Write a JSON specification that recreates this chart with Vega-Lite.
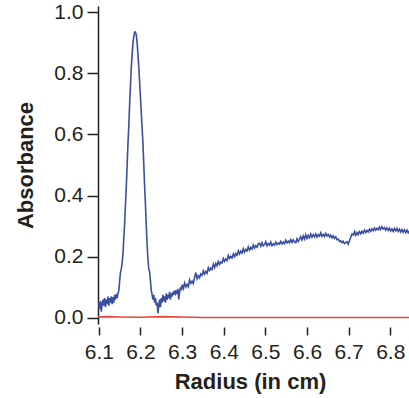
{
  "$schema": "https://vega.github.io/schema/vega-lite/v6.json",
  "autosize": {"type": "none"},
  "padding": {"left": 98, "top": 6, "right": 0, "bottom": 74},
  "width": 311,
  "height": 318,
  "background": "white",
  "config": {
    "view": {"stroke": null},
    "font": "Liberation Sans"
  },
  "datasets": {
    "curves": [
      {"series": "sample", "radius": 6.098, "abs": 0.035},
      {"series": "sample", "radius": 6.100, "abs": 0.05},
      {"series": "sample", "radius": 6.102, "abs": 0.03},
      {"series": "sample", "radius": 6.104, "abs": 0.055},
      {"series": "sample", "radius": 6.106, "abs": 0.02},
      {"series": "sample", "radius": 6.108, "abs": 0.045},
      {"series": "sample", "radius": 6.110, "abs": 0.06},
      {"series": "sample", "radius": 6.112, "abs": 0.04},
      {"series": "sample", "radius": 6.114, "abs": 0.065},
      {"series": "sample", "radius": 6.116, "abs": 0.035},
      {"series": "sample", "radius": 6.118, "abs": 0.06},
      {"series": "sample", "radius": 6.120, "abs": 0.045},
      {"series": "sample", "radius": 6.122, "abs": 0.07},
      {"series": "sample", "radius": 6.124, "abs": 0.04},
      {"series": "sample", "radius": 6.126, "abs": 0.065},
      {"series": "sample", "radius": 6.128, "abs": 0.05},
      {"series": "sample", "radius": 6.130, "abs": 0.07},
      {"series": "sample", "radius": 6.132, "abs": 0.045},
      {"series": "sample", "radius": 6.134, "abs": 0.068},
      {"series": "sample", "radius": 6.136, "abs": 0.05},
      {"series": "sample", "radius": 6.138, "abs": 0.075},
      {"series": "sample", "radius": 6.140, "abs": 0.06},
      {"series": "sample", "radius": 6.142, "abs": 0.078},
      {"series": "sample", "radius": 6.144, "abs": 0.065},
      {"series": "sample", "radius": 6.146, "abs": 0.08},
      {"series": "sample", "radius": 6.148, "abs": 0.09},
      {"series": "sample", "radius": 6.150, "abs": 0.12},
      {"series": "sample", "radius": 6.152, "abs": 0.15},
      {"series": "sample", "radius": 6.154, "abs": 0.16},
      {"series": "sample", "radius": 6.156, "abs": 0.18},
      {"series": "sample", "radius": 6.158, "abs": 0.21},
      {"series": "sample", "radius": 6.160, "abs": 0.26},
      {"series": "sample", "radius": 6.162, "abs": 0.31},
      {"series": "sample", "radius": 6.164, "abs": 0.37},
      {"series": "sample", "radius": 6.166, "abs": 0.43},
      {"series": "sample", "radius": 6.168, "abs": 0.50},
      {"series": "sample", "radius": 6.170, "abs": 0.57},
      {"series": "sample", "radius": 6.172, "abs": 0.63},
      {"series": "sample", "radius": 6.174, "abs": 0.70},
      {"series": "sample", "radius": 6.176, "abs": 0.76},
      {"series": "sample", "radius": 6.178, "abs": 0.82},
      {"series": "sample", "radius": 6.180, "abs": 0.86},
      {"series": "sample", "radius": 6.182, "abs": 0.90},
      {"series": "sample", "radius": 6.184, "abs": 0.92},
      {"series": "sample", "radius": 6.186, "abs": 0.935},
      {"series": "sample", "radius": 6.188, "abs": 0.935},
      {"series": "sample", "radius": 6.190, "abs": 0.925},
      {"series": "sample", "radius": 6.192, "abs": 0.90},
      {"series": "sample", "radius": 6.194, "abs": 0.86},
      {"series": "sample", "radius": 6.196, "abs": 0.82},
      {"series": "sample", "radius": 6.198, "abs": 0.77},
      {"series": "sample", "radius": 6.200, "abs": 0.72},
      {"series": "sample", "radius": 6.202, "abs": 0.67},
      {"series": "sample", "radius": 6.204, "abs": 0.62},
      {"series": "sample", "radius": 6.206, "abs": 0.57},
      {"series": "sample", "radius": 6.208, "abs": 0.50},
      {"series": "sample", "radius": 6.210, "abs": 0.43},
      {"series": "sample", "radius": 6.212, "abs": 0.37},
      {"series": "sample", "radius": 6.214, "abs": 0.30},
      {"series": "sample", "radius": 6.216, "abs": 0.24},
      {"series": "sample", "radius": 6.218, "abs": 0.19},
      {"series": "sample", "radius": 6.220, "abs": 0.16},
      {"series": "sample", "radius": 6.222, "abs": 0.15},
      {"series": "sample", "radius": 6.224, "abs": 0.12},
      {"series": "sample", "radius": 6.226, "abs": 0.09},
      {"series": "sample", "radius": 6.228, "abs": 0.075},
      {"series": "sample", "radius": 6.230, "abs": 0.06},
      {"series": "sample", "radius": 6.232, "abs": 0.075},
      {"series": "sample", "radius": 6.234, "abs": 0.05},
      {"series": "sample", "radius": 6.236, "abs": 0.065},
      {"series": "sample", "radius": 6.238, "abs": 0.04},
      {"series": "sample", "radius": 6.240, "abs": 0.05},
      {"series": "sample", "radius": 6.242, "abs": 0.015},
      {"series": "sample", "radius": 6.244, "abs": 0.04},
      {"series": "sample", "radius": 6.246, "abs": 0.06},
      {"series": "sample", "radius": 6.248, "abs": 0.035},
      {"series": "sample", "radius": 6.250, "abs": 0.065},
      {"series": "sample", "radius": 6.252, "abs": 0.05},
      {"series": "sample", "radius": 6.254, "abs": 0.075},
      {"series": "sample", "radius": 6.256, "abs": 0.055},
      {"series": "sample", "radius": 6.258, "abs": 0.07},
      {"series": "sample", "radius": 6.260, "abs": 0.05},
      {"series": "sample", "radius": 6.262, "abs": 0.08},
      {"series": "sample", "radius": 6.264, "abs": 0.06},
      {"series": "sample", "radius": 6.266, "abs": 0.075},
      {"series": "sample", "radius": 6.268, "abs": 0.065},
      {"series": "sample", "radius": 6.270, "abs": 0.085},
      {"series": "sample", "radius": 6.272, "abs": 0.06},
      {"series": "sample", "radius": 6.274, "abs": 0.08},
      {"series": "sample", "radius": 6.276, "abs": 0.07},
      {"series": "sample", "radius": 6.278, "abs": 0.085},
      {"series": "sample", "radius": 6.280, "abs": 0.075},
      {"series": "sample", "radius": 6.282, "abs": 0.09},
      {"series": "sample", "radius": 6.284, "abs": 0.08},
      {"series": "sample", "radius": 6.286, "abs": 0.09},
      {"series": "sample", "radius": 6.288, "abs": 0.078},
      {"series": "sample", "radius": 6.290, "abs": 0.095},
      {"series": "sample", "radius": 6.292, "abs": 0.06},
      {"series": "sample", "radius": 6.294, "abs": 0.085},
      {"series": "sample", "radius": 6.296, "abs": 0.1},
      {"series": "sample", "radius": 6.298, "abs": 0.09},
      {"series": "sample", "radius": 6.300, "abs": 0.108},
      {"series": "sample", "radius": 6.303, "abs": 0.096},
      {"series": "sample", "radius": 6.306, "abs": 0.114},
      {"series": "sample", "radius": 6.309, "abs": 0.101},
      {"series": "sample", "radius": 6.312, "abs": 0.110},
      {"series": "sample", "radius": 6.315, "abs": 0.102},
      {"series": "sample", "radius": 6.318, "abs": 0.124},
      {"series": "sample", "radius": 6.321, "abs": 0.113},
      {"series": "sample", "radius": 6.324, "abs": 0.120},
      {"series": "sample", "radius": 6.327, "abs": 0.112},
      {"series": "sample", "radius": 6.330, "abs": 0.133},
      {"series": "sample", "radius": 6.333, "abs": 0.148},
      {"series": "sample", "radius": 6.336, "abs": 0.128},
      {"series": "sample", "radius": 6.339, "abs": 0.138},
      {"series": "sample", "radius": 6.342, "abs": 0.131},
      {"series": "sample", "radius": 6.345, "abs": 0.144},
      {"series": "sample", "radius": 6.348, "abs": 0.139},
      {"series": "sample", "radius": 6.351, "abs": 0.154},
      {"series": "sample", "radius": 6.354, "abs": 0.143},
      {"series": "sample", "radius": 6.357, "abs": 0.152},
      {"series": "sample", "radius": 6.360, "abs": 0.146},
      {"series": "sample", "radius": 6.363, "abs": 0.164},
      {"series": "sample", "radius": 6.366, "abs": 0.155},
      {"series": "sample", "radius": 6.369, "abs": 0.163},
      {"series": "sample", "radius": 6.372, "abs": 0.158},
      {"series": "sample", "radius": 6.375, "abs": 0.176},
      {"series": "sample", "radius": 6.378, "abs": 0.165},
      {"series": "sample", "radius": 6.381, "abs": 0.178},
      {"series": "sample", "radius": 6.384, "abs": 0.170},
      {"series": "sample", "radius": 6.387, "abs": 0.184},
      {"series": "sample", "radius": 6.390, "abs": 0.175},
      {"series": "sample", "radius": 6.393, "abs": 0.183},
      {"series": "sample", "radius": 6.396, "abs": 0.180},
      {"series": "sample", "radius": 6.399, "abs": 0.194},
      {"series": "sample", "radius": 6.402, "abs": 0.185},
      {"series": "sample", "radius": 6.405, "abs": 0.193},
      {"series": "sample", "radius": 6.408, "abs": 0.188},
      {"series": "sample", "radius": 6.411, "abs": 0.204},
      {"series": "sample", "radius": 6.414, "abs": 0.195},
      {"series": "sample", "radius": 6.417, "abs": 0.201},
      {"series": "sample", "radius": 6.420, "abs": 0.196},
      {"series": "sample", "radius": 6.423, "abs": 0.209},
      {"series": "sample", "radius": 6.426, "abs": 0.200},
      {"series": "sample", "radius": 6.429, "abs": 0.210},
      {"series": "sample", "radius": 6.432, "abs": 0.205},
      {"series": "sample", "radius": 6.435, "abs": 0.219},
      {"series": "sample", "radius": 6.438, "abs": 0.209},
      {"series": "sample", "radius": 6.441, "abs": 0.218},
      {"series": "sample", "radius": 6.444, "abs": 0.212},
      {"series": "sample", "radius": 6.447, "abs": 0.226},
      {"series": "sample", "radius": 6.450, "abs": 0.215},
      {"series": "sample", "radius": 6.453, "abs": 0.224},
      {"series": "sample", "radius": 6.456, "abs": 0.219},
      {"series": "sample", "radius": 6.459, "abs": 0.232},
      {"series": "sample", "radius": 6.462, "abs": 0.222},
      {"series": "sample", "radius": 6.465, "abs": 0.230},
      {"series": "sample", "radius": 6.468, "abs": 0.225},
      {"series": "sample", "radius": 6.471, "abs": 0.238},
      {"series": "sample", "radius": 6.474, "abs": 0.228},
      {"series": "sample", "radius": 6.477, "abs": 0.236},
      {"series": "sample", "radius": 6.480, "abs": 0.231},
      {"series": "sample", "radius": 6.483, "abs": 0.242},
      {"series": "sample", "radius": 6.486, "abs": 0.244},
      {"series": "sample", "radius": 6.489, "abs": 0.234},
      {"series": "sample", "radius": 6.492, "abs": 0.246},
      {"series": "sample", "radius": 6.495, "abs": 0.236},
      {"series": "sample", "radius": 6.498, "abs": 0.240},
      {"series": "sample", "radius": 6.501, "abs": 0.249},
      {"series": "sample", "radius": 6.504, "abs": 0.236},
      {"series": "sample", "radius": 6.507, "abs": 0.243},
      {"series": "sample", "radius": 6.510, "abs": 0.238},
      {"series": "sample", "radius": 6.513, "abs": 0.248},
      {"series": "sample", "radius": 6.516, "abs": 0.236},
      {"series": "sample", "radius": 6.519, "abs": 0.242},
      {"series": "sample", "radius": 6.522, "abs": 0.238},
      {"series": "sample", "radius": 6.525, "abs": 0.248},
      {"series": "sample", "radius": 6.528, "abs": 0.240},
      {"series": "sample", "radius": 6.531, "abs": 0.245},
      {"series": "sample", "radius": 6.534, "abs": 0.241},
      {"series": "sample", "radius": 6.537, "abs": 0.250},
      {"series": "sample", "radius": 6.540, "abs": 0.242},
      {"series": "sample", "radius": 6.543, "abs": 0.248},
      {"series": "sample", "radius": 6.546, "abs": 0.243},
      {"series": "sample", "radius": 6.549, "abs": 0.254},
      {"series": "sample", "radius": 6.552, "abs": 0.245},
      {"series": "sample", "radius": 6.555, "abs": 0.251},
      {"series": "sample", "radius": 6.558, "abs": 0.246},
      {"series": "sample", "radius": 6.561, "abs": 0.256},
      {"series": "sample", "radius": 6.564, "abs": 0.247},
      {"series": "sample", "radius": 6.567, "abs": 0.255},
      {"series": "sample", "radius": 6.570, "abs": 0.249},
      {"series": "sample", "radius": 6.573, "abs": 0.246},
      {"series": "sample", "radius": 6.576, "abs": 0.259},
      {"series": "sample", "radius": 6.579, "abs": 0.250},
      {"series": "sample", "radius": 6.582, "abs": 0.257},
      {"series": "sample", "radius": 6.585, "abs": 0.266},
      {"series": "sample", "radius": 6.588, "abs": 0.255},
      {"series": "sample", "radius": 6.591, "abs": 0.268},
      {"series": "sample", "radius": 6.594, "abs": 0.258},
      {"series": "sample", "radius": 6.597, "abs": 0.272},
      {"series": "sample", "radius": 6.600, "abs": 0.260},
      {"series": "sample", "radius": 6.603, "abs": 0.270},
      {"series": "sample", "radius": 6.606, "abs": 0.262},
      {"series": "sample", "radius": 6.609, "abs": 0.274},
      {"series": "sample", "radius": 6.612, "abs": 0.264},
      {"series": "sample", "radius": 6.615, "abs": 0.272},
      {"series": "sample", "radius": 6.618, "abs": 0.265},
      {"series": "sample", "radius": 6.621, "abs": 0.274},
      {"series": "sample", "radius": 6.624, "abs": 0.264},
      {"series": "sample", "radius": 6.627, "abs": 0.272},
      {"series": "sample", "radius": 6.630, "abs": 0.267},
      {"series": "sample", "radius": 6.633, "abs": 0.278},
      {"series": "sample", "radius": 6.636, "abs": 0.267},
      {"series": "sample", "radius": 6.639, "abs": 0.273},
      {"series": "sample", "radius": 6.642, "abs": 0.266},
      {"series": "sample", "radius": 6.645, "abs": 0.276},
      {"series": "sample", "radius": 6.648, "abs": 0.268},
      {"series": "sample", "radius": 6.651, "abs": 0.273},
      {"series": "sample", "radius": 6.654, "abs": 0.265},
      {"series": "sample", "radius": 6.657, "abs": 0.271},
      {"series": "sample", "radius": 6.660, "abs": 0.262},
      {"series": "sample", "radius": 6.663, "abs": 0.268},
      {"series": "sample", "radius": 6.666, "abs": 0.260},
      {"series": "sample", "radius": 6.669, "abs": 0.265},
      {"series": "sample", "radius": 6.672, "abs": 0.256},
      {"series": "sample", "radius": 6.675, "abs": 0.258},
      {"series": "sample", "radius": 6.678, "abs": 0.250},
      {"series": "sample", "radius": 6.681, "abs": 0.252},
      {"series": "sample", "radius": 6.684, "abs": 0.246},
      {"series": "sample", "radius": 6.687, "abs": 0.251},
      {"series": "sample", "radius": 6.690, "abs": 0.243},
      {"series": "sample", "radius": 6.693, "abs": 0.246},
      {"series": "sample", "radius": 6.696, "abs": 0.249},
      {"series": "sample", "radius": 6.699, "abs": 0.241},
      {"series": "sample", "radius": 6.702, "abs": 0.252},
      {"series": "sample", "radius": 6.705, "abs": 0.264},
      {"series": "sample", "radius": 6.708, "abs": 0.274},
      {"series": "sample", "radius": 6.711, "abs": 0.271},
      {"series": "sample", "radius": 6.714, "abs": 0.282},
      {"series": "sample", "radius": 6.717, "abs": 0.270},
      {"series": "sample", "radius": 6.720, "abs": 0.279},
      {"series": "sample", "radius": 6.723, "abs": 0.272},
      {"series": "sample", "radius": 6.726, "abs": 0.282},
      {"series": "sample", "radius": 6.729, "abs": 0.275},
      {"series": "sample", "radius": 6.732, "abs": 0.283},
      {"series": "sample", "radius": 6.735, "abs": 0.277},
      {"series": "sample", "radius": 6.738, "abs": 0.287},
      {"series": "sample", "radius": 6.741, "abs": 0.279},
      {"series": "sample", "radius": 6.744, "abs": 0.286},
      {"series": "sample", "radius": 6.747, "abs": 0.281},
      {"series": "sample", "radius": 6.750, "abs": 0.290},
      {"series": "sample", "radius": 6.753, "abs": 0.283},
      {"series": "sample", "radius": 6.756, "abs": 0.291},
      {"series": "sample", "radius": 6.759, "abs": 0.285},
      {"series": "sample", "radius": 6.762, "abs": 0.294},
      {"series": "sample", "radius": 6.765, "abs": 0.287},
      {"series": "sample", "radius": 6.768, "abs": 0.293},
      {"series": "sample", "radius": 6.771, "abs": 0.288},
      {"series": "sample", "radius": 6.774, "abs": 0.297},
      {"series": "sample", "radius": 6.777, "abs": 0.289},
      {"series": "sample", "radius": 6.780, "abs": 0.298},
      {"series": "sample", "radius": 6.783, "abs": 0.291},
      {"series": "sample", "radius": 6.786, "abs": 0.295},
      {"series": "sample", "radius": 6.789, "abs": 0.287},
      {"series": "sample", "radius": 6.792, "abs": 0.294},
      {"series": "sample", "radius": 6.795, "abs": 0.286},
      {"series": "sample", "radius": 6.798, "abs": 0.293},
      {"series": "sample", "radius": 6.801, "abs": 0.284},
      {"series": "sample", "radius": 6.804, "abs": 0.291},
      {"series": "sample", "radius": 6.807, "abs": 0.283},
      {"series": "sample", "radius": 6.810, "abs": 0.292},
      {"series": "sample", "radius": 6.813, "abs": 0.285},
      {"series": "sample", "radius": 6.816, "abs": 0.293},
      {"series": "sample", "radius": 6.819, "abs": 0.283},
      {"series": "sample", "radius": 6.822, "abs": 0.290},
      {"series": "sample", "radius": 6.825, "abs": 0.281},
      {"series": "sample", "radius": 6.828, "abs": 0.289},
      {"series": "sample", "radius": 6.831, "abs": 0.280},
      {"series": "sample", "radius": 6.834, "abs": 0.288},
      {"series": "sample", "radius": 6.837, "abs": 0.279},
      {"series": "sample", "radius": 6.840, "abs": 0.287},
      {"series": "sample", "radius": 6.843, "abs": 0.278},
      {"series": "sample", "radius": 6.846, "abs": 0.285},
      {"series": "reference", "radius": 6.098, "abs": 0.003},
      {"series": "reference", "radius": 6.120, "abs": 0.004},
      {"series": "reference", "radius": 6.150, "abs": 0.003},
      {"series": "reference", "radius": 6.200, "abs": 0.002},
      {"series": "reference", "radius": 6.250, "abs": 0.004},
      {"series": "reference", "radius": 6.300, "abs": 0.003},
      {"series": "reference", "radius": 6.350, "abs": 0.0015},
      {"series": "reference", "radius": 6.600, "abs": 0.0015},
      {"series": "reference", "radius": 6.846, "abs": 0.0015}
    ]
  },
  "data": {"name": "curves"},
  "mark": {"type": "line", "strokeWidth": 1.6, "clip": true, "interpolate": "linear"},
  "encoding": {
    "x": {
      "field": "radius",
      "type": "quantitative",
      "scale": {"domain": [6.098, 6.845], "nice": false, "zero": false},
      "axis": {
        "title": "Radius (in cm)",
        "values": [6.1, 6.2, 6.3, 6.4, 6.5, 6.6, 6.7, 6.8],
        "format": ".1f",
        "grid": false,
        "domain": false,
        "offset": 3,
        "tickSize": 8,
        "tickWidth": 1.5,
        "tickColor": "#231f20",
        "labelFontSize": 21,
        "labelColor": "#231f20",
        "labelPadding": 6,
        "labelFlush": false,
        "titleFontSize": 22,
        "titleFontWeight": "bold",
        "titleColor": "#231f20",
        "titlePadding": 9,
        "titleX": 152
      }
    },
    "y": {
      "field": "abs",
      "type": "quantitative",
      "scale": {"domain": [-0.02, 1.02], "nice": false, "zero": false},
      "axis": {
        "title": "Absorbance",
        "values": [0, 0.2, 0.4, 0.6, 0.8, 1.0],
        "format": ".1f",
        "grid": false,
        "domain": true,
        "domainColor": "#231f20",
        "domainWidth": 1.5,
        "tickSize": 11,
        "tickWidth": 1.5,
        "tickColor": "#231f20",
        "labelFontSize": 21,
        "labelColor": "#231f20",
        "labelPadding": 4,
        "labelFlush": false,
        "titleFontSize": 22,
        "titleFontWeight": "bold",
        "titleColor": "#231f20",
        "titlePadding": 16
      }
    },
    "color": {
      "field": "series",
      "type": "nominal",
      "scale": {"domain": ["sample", "reference"], "range": ["#3a4f9f", "#e8443d"]},
      "legend": null
    }
  }
}
